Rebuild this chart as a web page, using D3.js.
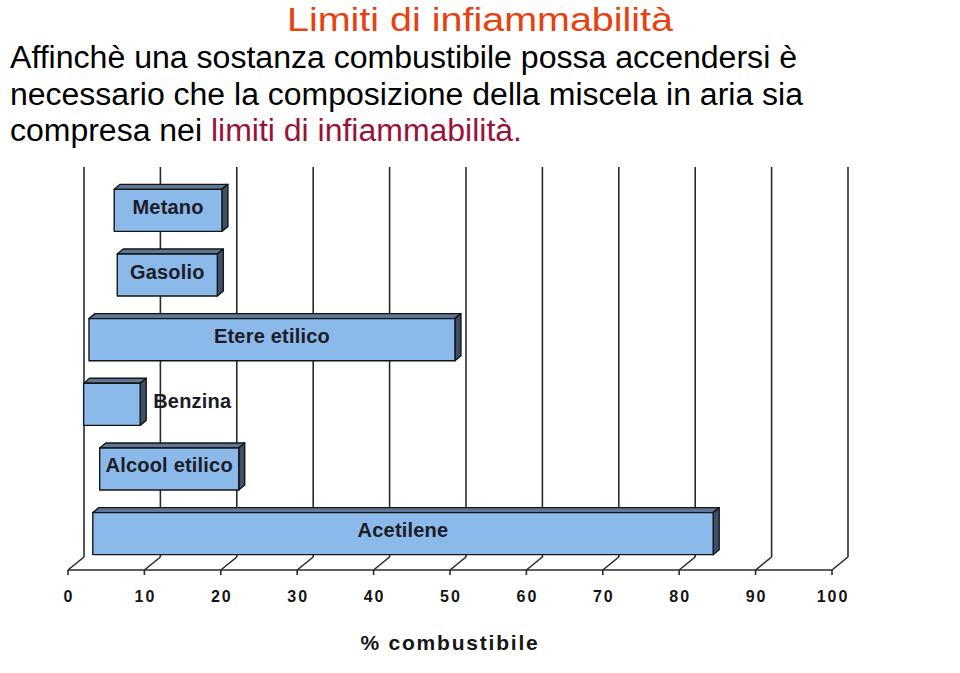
<!DOCTYPE html>
<meta charset="utf-8" />
<title>Limiti di infiammabilità</title>
<style>
  body {
    margin: 0;
    background: #fff;
  }
  text {
    font-family: "Liberation Sans", Arial, sans-serif;
  }
  .head {
    font-size: 31px;
    fill: #000;
  }
  .title {
    font-size: 33px;
    fill: #e8400f;
  }
  .accent {
    fill: #9b1238;
  }
  line.grid, line.axis {
    stroke: #2a2a2a;
    stroke-width: 1.6px;
  }
  .bar-front { fill: #8bb9e9; }
  .bar-top { fill: #5f7793; }
  .bar-side { fill: #3c5069; }
  .bar path, .bar rect {
    stroke: #151515;
    stroke-width: 1.4px;
    stroke-linejoin: round;
  }
  .label {
    font-size: 20px;
    font-weight: bold;
    letter-spacing: 0.2px;
    fill: #1c1c26;
  }
  .tick-label {
    font-size: 16px;
    font-weight: bold;
    letter-spacing: 2px;
    fill: #151515;
  }
  .axis-title {
    font-size: 21px;
    font-weight: bold;
    letter-spacing: 1.8px;
    fill: #151515;
  }
</style>

<body>
  <svg width="960" height="673"></svg>

  <script src="https://d3js.org/d3.v7.min.js"></script>
  <script>
    // substances and their flammability range (% fuel in air), as drawn
    const substances = ["Metano", "Gasolio", "Etere etilico", "Benzina", "Alcool etilico", "Acetilene"];
    const lowerLimit = [5.0, 5.4, 1.7, 1.0, 3.1, 2.2];
    const upperLimit = [19.1, 18.5, 49.6, 8.4, 21.3, 83.4];
    const ticks = [0, 10, 20, 30, 40, 50, 60, 70, 80, 90, 100];

    const svg = d3.select("svg");

    // header text
    svg.append("text")
      .attr("class", "title")
      .attr("x", 480)
      .attr("y", 31)
      .attr("text-anchor", "middle")
      .attr("textLength", 386)
      .attr("lengthAdjust", "spacingAndGlyphs")
      .text("Limiti di infiammabilità");

    svg.append("text")
      .attr("class", "head")
      .attr("x", 10)
      .attr("y", 68)
      .attr("textLength", 787)
      .attr("lengthAdjust", "spacingAndGlyphs")
      .text("Affinchè una sostanza combustibile possa accendersi è");

    svg.append("text")
      .attr("class", "head")
      .attr("x", 10)
      .attr("y", 105)
      .attr("textLength", 793)
      .attr("lengthAdjust", "spacingAndGlyphs")
      .text("necessario che la composizione della miscela in aria sia");

    const line3 = svg.append("text")
      .attr("class", "head")
      .attr("x", 10)
      .attr("y", 141)
      .attr("textLength", 512)
      .attr("lengthAdjust", "spacingAndGlyphs");
    line3.append("tspan").text("compresa nei ");
    line3.append("tspan").attr("class", "accent").text("limiti di infiammabilità.");

    // chart geometry
    const axisY = 570;
    const gridTop = 167;
    const depth = { dx: 16, dy: -13 };   // back wall offset
    const barShift = 8;                   // bars sit halfway between front and back
    const bd = { dx: 6, dy: -5 };         // bar thickness

    const x = d3.scaleLinear().domain([0, 100]).range([68, 832]);
    const y = d3.scaleBand()
      .domain(substances)
      .range([157, 587])
      .paddingInner(0.35)
      .paddingOuter(0.5);

    // back wall grid lines
    svg.selectAll("line.grid")
      .data(ticks)
      .enter()
      .append("line")
      .attr("class", "grid")
      .attr("x1", d => x(d) + depth.dx)
      .attr("x2", d => x(d) + depth.dx)
      .attr("y1", axisY + depth.dy)
      .attr("y2", gridTop);

    // floor diagonals
    svg.selectAll("line.diag")
      .data(ticks)
      .enter()
      .append("line")
      .attr("class", "axis")
      .attr("x1", d => x(d))
      .attr("y1", axisY)
      .attr("x2", d => x(d) + depth.dx)
      .attr("y2", axisY + depth.dy);

    // front axis line and ticks
    svg.append("line")
      .attr("class", "axis")
      .attr("x1", x(0))
      .attr("x2", x(100))
      .attr("y1", axisY)
      .attr("y2", axisY);

    svg.selectAll("line.tick")
      .data(ticks)
      .enter()
      .append("line")
      .attr("class", "axis")
      .attr("x1", d => x(d))
      .attr("x2", d => x(d))
      .attr("y1", axisY)
      .attr("y2", axisY + 5);

    svg.selectAll("text.tick-label")
      .data(ticks)
      .enter()
      .append("text")
      .attr("class", "tick-label")
      .attr("x", d => x(d) + 1)
      .attr("y", 602)
      .attr("text-anchor", "middle")
      .text(d => d);

    svg.append("text")
      .attr("class", "axis-title")
      .attr("x", 450)
      .attr("y", 650)
      .attr("text-anchor", "middle")
      .text("% combustibile");

    // bars
    const rows = substances.map((name, i) => ({ name, lo: lowerLimit[i], hi: upperLimit[i] }));

    const bar = svg.selectAll("g.bar")
      .data(rows)
      .enter()
      .append("g")
      .attr("class", "bar");

    const x0 = d => x(d.lo) + barShift;
    const x1 = d => x(d.hi) + barShift;
    const bh = y.bandwidth();

    bar.append("path")
      .attr("class", "bar-top")
      .attr("d", d => {
        const t = y(d.name);
        return `M${x0(d)},${t}L${x0(d) + bd.dx},${t + bd.dy}L${x1(d) + bd.dx},${t + bd.dy}L${x1(d)},${t}Z`;
      });

    bar.append("path")
      .attr("class", "bar-side")
      .attr("d", d => {
        const t = y(d.name);
        return `M${x1(d)},${t}L${x1(d) + bd.dx},${t + bd.dy}L${x1(d) + bd.dx},${t + bh + bd.dy}L${x1(d)},${t + bh}Z`;
      });

    bar.append("rect")
      .attr("class", "bar-front")
      .attr("x", x0)
      .attr("y", d => y(d.name))
      .attr("width", d => x1(d) - x0(d))
      .attr("height", bh);

    // labels: centred in the bar, except Benzina which sits to the right
    bar.append("text")
      .attr("class", "label")
      .attr("x", d => d.name === "Benzina" ? x1(d) + 13 : (x0(d) + x1(d)) / 2)
      .attr("y", d => y(d.name) + bh / 2 + 3.5)
      .attr("text-anchor", d => d.name === "Benzina" ? "start" : "middle")
      .text(d => d.name);
  </script>
</body>
